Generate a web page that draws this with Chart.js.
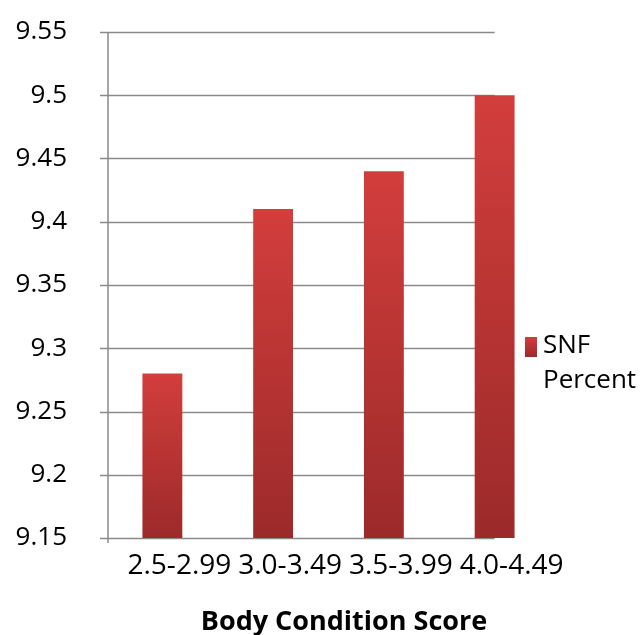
<!DOCTYPE html>
<html>
<head>
<meta charset="utf-8">
<script src="https://cdn.jsdelivr.net/npm/chart.js@4.4.1/dist/chart.umd.min.js"></script>
<style>
  html, body { margin: 0; padding: 0; background: #fff; }
  #wrap { width: 644px; height: 635px; position: relative; }
</style>
</head>
<body>
<div id="wrap"><canvas id="c" width="644" height="635"></canvas></div>
<script>
const categories = ['2.5-2.99', '3.0-3.49', '3.5-3.99', '4.0-4.49'];
const snfValues = [9.28, 9.41, 9.44, 9.50];
const seriesName = 'SNF Percent';
const axisTitle = 'Body Condition Score';
const yMin = 9.15, yMax = 9.55, yStep = 0.05;

const FONT = '"Open Sans", "Noto Sans", sans-serif';
const GRID = '#8a8a8a';
const RED_TOP = '#d23e3c';
const RED_BOTTOM = '#9c2a2a';

function barFill(ctx) {
    const chart = ctx.chart;
    const y = chart.scales && chart.scales.y;
    if (!y || ctx.raw == null) return RED_TOP;
    const top = y.getPixelForValue(ctx.raw);
    const bottom = y.getPixelForValue(yMin);
    if (!isFinite(top) || !isFinite(bottom) || top === bottom) return RED_TOP;
    const g = chart.ctx.createLinearGradient(0, top, 0, bottom);
    g.addColorStop(0, RED_TOP);
    g.addColorStop(1, RED_BOTTOM);
    return g;
}

// gridlines stop at the centre of the last category, like the source
const excelGrid = {
    id: 'excelGrid',
    beforeDatasetsDraw(chart) {
        const { ctx, chartArea, scales: { x, y } } = chart;
        const right = x.getPixelForValue(categories.length - 1);
        ctx.save();
        ctx.strokeStyle = GRID;
        ctx.lineWidth = 1.5;
        y.ticks.forEach(t => {
            const py = Math.round(y.getPixelForValue(t.value)) + 0.5;
            ctx.beginPath();
            ctx.moveTo(chartArea.left - 7, py);
            ctx.lineTo(right, py);
            ctx.stroke();
        });
        ctx.beginPath();
        ctx.moveTo(chartArea.left + 1, chartArea.top);
        ctx.lineTo(chartArea.left + 1, chartArea.bottom + 5);
        ctx.stroke();
        ctx.restore();
    }
};

const extras = {
    id: 'extras',
    afterDraw(chart) {
        const { ctx } = chart;
        ctx.save();
        ctx.fillStyle = '#000';
        // axis title
        ctx.font = 'bold 27px ' + FONT;
        ctx.textAlign = 'center';
        ctx.textBaseline = 'middle';
        ctx.fillText(axisTitle, 344, 622);
        // legend
        const g = ctx.createLinearGradient(0, 337, 0, 357);
        g.addColorStop(0, RED_TOP);
        g.addColorStop(1, RED_BOTTOM);
        ctx.fillStyle = g;
        ctx.fillRect(525, 337, 12, 20);
        ctx.fillStyle = '#000';
        ctx.font = '26px ' + FONT;
        ctx.textAlign = 'left';
        ctx.textBaseline = 'alphabetic';
        const words = seriesName.split(' ');
        words.forEach((w, i) => ctx.fillText(w, 543, 353 + i * 35));
        ctx.restore();
    }
};

new Chart(document.getElementById('c'), {
    type: 'bar',
    data: {
        labels: categories,
        datasets: [{
            label: seriesName,
            data: snfValues,
            backgroundColor: barFill,
            borderWidth: 0,
            barPercentage: 0.36,
            categoryPercentage: 1
        }]
    },
    options: {
        responsive: false,
        animation: false,
        layout: { padding: { left: 0, right: 94, top: 32, bottom: 0 } },
        plugins: { legend: { display: false }, tooltip: { enabled: false } },
        scales: {
            x: {
                grid: { display: false, drawTicks: false },
                border: { display: false },
                ticks: { color: '#000', font: { family: FONT, size: 28 }, padding: 11, labelOffset: 17, maxRotation: 0, autoSkip: false },
                afterFit: s => { s.height = 97; s.paddingLeft = 0; s.paddingRight = 0; }
            },
            y: {
                min: yMin,
                max: yMax,
                grid: { display: false, drawTicks: false },
                border: { display: false },
                ticks: {
                    stepSize: yStep,
                    color: '#000',
                    font: { family: FONT, size: 26 },
                    padding: 40,
                    callback: v => String(+v.toFixed(2))
                },
                afterFit: s => { s.width = 107; s.paddingTop = 0; s.paddingBottom = 0; }
            }
        }
    },
    plugins: [excelGrid, extras]
});
</script>
</body>
</html>
